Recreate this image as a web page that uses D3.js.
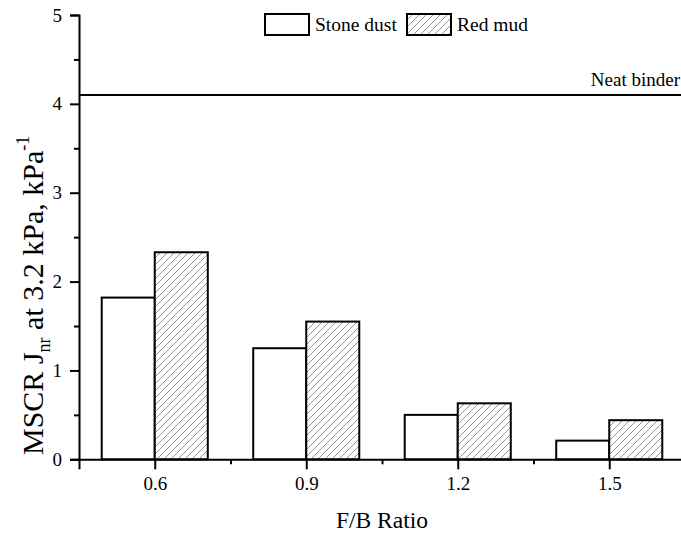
<!DOCTYPE html>
<html>
<head>
<meta charset="utf-8">
<script src="https://cdn.jsdelivr.net/npm/d3@7"></script>
<style>
  html, body { margin: 0; padding: 0; background: #fff; }
  svg text { font-family: "Liberation Serif", "Times New Roman", serif; fill: #000; }
</style>
</head>
<body>
<div id="wrapper"></div>
<script>
// Data
const ratios = [0.6, 0.9, 1.2, 1.5];
const stoneDust = [1.82, 1.25, 0.50, 0.21];
const redMud = [2.33, 1.55, 0.63, 0.44];
const neatBinder = 4.1;
const yTicks = [0, 1, 2, 3, 4, 5];
const yMinorTicks = [0.5, 1.5, 2.5, 3.5, 4.5];
const xMinorTicks = [0.75, 1.05, 1.35];

function drawChart() {
  const dimensions = { width: 681, height: 534 };

  const svg = d3.select("#wrapper")
    .append("svg")
      .attr("width", dimensions.width)
      .attr("height", dimensions.height);

  const defs = svg.append("defs");
  const pattern = defs.append("pattern")
    .attr("id", "hatch")
    .attr("patternUnits", "userSpaceOnUse")
    .attr("width", 7)
    .attr("height", 7);
  pattern.append("rect").attr("width", 7).attr("height", 7).attr("fill", "#fff");
  pattern.append("path")
    .attr("d", "M-1,1 l2,-2 M0,7 l7,-7 M6,8 l2,-2")
    .attr("stroke", "#8a8a8a")
    .attr("stroke-width", 0.9);

  // Scales
  const xScale = d3.scaleLinear()
    .domain([0.45, 1.65])
    .range([79, 685]);

  const yScale = d3.scaleLinear()
    .domain([0, 5])
    .range([459.3, 15]);

  const barW = xScale(0.555) - xScale(0.45);

  // Bars
  const bars = svg.append("g");
  bars.selectAll(".stone")
    .data(ratios)
    .join("rect")
      .attr("x", d => xScale(d) - barW)
      .attr("y", (d, i) => yScale(stoneDust[i]))
      .attr("width", barW)
      .attr("height", (d, i) => yScale(0) - yScale(stoneDust[i]))
      .attr("fill", "#fff")
      .attr("stroke", "#000")
      .attr("stroke-width", 2);

  bars.selectAll(".red")
    .data(ratios)
    .join("rect")
      .attr("x", d => xScale(d))
      .attr("y", (d, i) => yScale(redMud[i]))
      .attr("width", barW)
      .attr("height", (d, i) => yScale(0) - yScale(redMud[i]))
      .attr("fill", "url(#hatch)")
      .attr("stroke", "#000")
      .attr("stroke-width", 2);

  // Axes
  svg.append("g")
    .attr("transform", `translate(${xScale(0.45)},0)`)
    .call(d3.axisLeft(yScale).tickValues(yTicks).tickFormat(d3.format("d")).tickSize(9).tickPadding(8));
  svg.append("g")
    .attr("transform", `translate(${xScale(0.45)},0)`)
    .call(d3.axisLeft(yScale).tickValues(yMinorTicks).tickFormat("").tickSize(5))
    .call(g => g.select(".domain").remove());

  svg.append("g")
    .attr("transform", `translate(0,${yScale(0)})`)
    .call(d3.axisBottom(xScale).tickValues(ratios).tickFormat(d3.format(".1f")).tickSize(10).tickPadding(7));
  svg.append("g")
    .attr("transform", `translate(0,${yScale(0)})`)
    .call(d3.axisBottom(xScale).tickValues(xMinorTicks).tickFormat("").tickSize(5))
    .call(g => g.select(".domain").remove());

  svg.selectAll(".domain").attr("stroke", "#000").attr("stroke-width", 2);
  svg.selectAll(".tick line").attr("stroke", "#000").attr("stroke-width", 2);
  svg.selectAll(".tick text")
    .style("font-family", "'Liberation Serif', 'Times New Roman', serif")
    .style("font-size", "19px")
    .attr("fill", "#000");

  // Neat binder reference line
  svg.append("line")
    .attr("x1", xScale(0.45))
    .attr("x2", dimensions.width)
    .attr("y1", yScale(neatBinder))
    .attr("y2", yScale(neatBinder))
    .attr("stroke", "#000")
    .attr("stroke-width", 2);
  svg.append("text")
    .attr("x", 680)
    .attr("y", 86)
    .attr("text-anchor", "end")
    .style("font-size", "19px")
    .text("Neat binder");

  // Legend
  const legend = svg.append("g");
  const legendItems = [
    { label: "Stone dust", fill: "#fff", x: 265 },
    { label: "Red mud", fill: "url(#hatch)", x: 407 },
  ];
  legend.selectAll("rect")
    .data(legendItems)
    .join("rect")
      .attr("x", d => d.x)
      .attr("y", 14)
      .attr("width", 44)
      .attr("height", 21)
      .attr("fill", d => d.fill)
      .attr("stroke", "#000")
      .attr("stroke-width", 2);
  legend.selectAll("text")
    .data(legendItems)
    .join("text")
      .attr("x", d => d.x + 50)
      .attr("y", 31)
      .style("font-size", "19.5px")
      .text(d => d.label);

  // Axis titles
  svg.append("text")
    .attr("x", xScale(1.05))
    .attr("y", 528)
    .attr("text-anchor", "middle")
    .style("font-size", "23.5px")
    .text("F/B Ratio");

  const yTitle = svg.append("text")
    .attr("transform", "translate(43,455) rotate(-90)")
    .attr("text-anchor", "start")
    .style("font-size", "30px");
  yTitle.append("tspan").text("MSCR J");
  yTitle.append("tspan").attr("dy", 7).style("font-size", "18px").text("nr");
  yTitle.append("tspan").attr("dy", -7).text(" at 3.2 kPa, kPa");
  yTitle.append("tspan").attr("dy", -14).style("font-size", "18px").text("-1");
}
drawChart();
</script>
</body>
</html>
